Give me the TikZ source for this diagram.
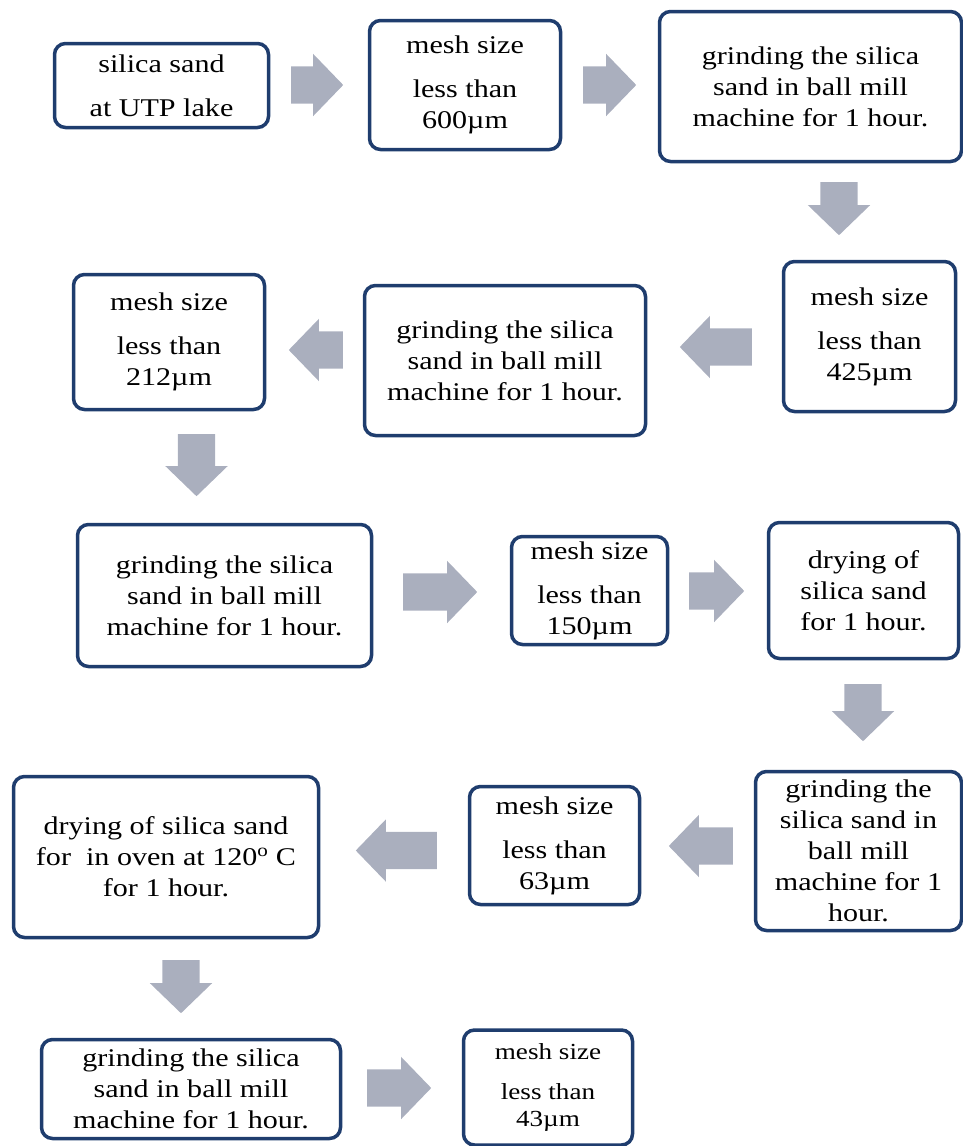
\documentclass[tikz,border=0pt]{standalone}
\usepackage{fontspec}
\setmainfont[FakeStretch=1.18]{Liberation Serif}
\usetikzlibrary{shapes.arrows}
\definecolor{boxblue}{RGB}{31,61,110}
\definecolor{arrowgray}{RGB}{170,175,190}

\begin{document}
\begin{tikzpicture}[
    x=1pt, y=-1pt,
    stepbox/.style={draw=boxblue, line width=3.5pt, rounded corners=11pt,
       fill=white, align=center, inner sep=0pt,
       font=\fontsize{25.5}{31}\selectfont},
    meshbox/.style={stepbox},
    flowarrow/.style={single arrow, fill=arrowgray, draw=none,
       inner xsep=0pt, inner ysep=18.5pt, single arrow head extend=12.5pt,
       single arrow tip angle=92, anchor=tail, minimum height=#1}
  ]
    \useasboundingbox (0,0) rectangle (963,1146);

    % First row
    \node[stepbox, minimum width=214pt, minimum height=84pt] (sand) at (161.5,85.5)
      {silica sand\\[13pt]at UTP lake};
    \node[meshbox, minimum width=191pt, minimum height=129pt] (mesh600) at (465,85)
      {mesh size\\[13pt]less than\\600µm};
    \node[stepbox, minimum width=302pt, minimum height=150pt] (grind1) at (810.5,86.5)
      {grinding the silica\\sand in ball mill\\machine for 1 hour.};

    % Second row
    \node[meshbox, minimum width=172pt, minimum height=150pt] (mesh425) at (869.5,336.5)
      {mesh size\\[13pt]less than\\425µm};
    \node[stepbox, minimum width=281pt, minimum height=150pt] (grind2) at (505,360.5)
      {grinding the silica\\sand in ball mill\\machine for 1 hour.};
    \node[meshbox, minimum width=191pt, minimum height=135pt] (mesh212) at (169,342)
      {mesh size\\[13pt]less than\\212µm};

    % Third row
    \node[stepbox, minimum width=294pt, minimum height=142pt] (grind3) at (224.5,595.5)
      {grinding the silica\\sand in ball mill\\machine for 1 hour.};
    \node[meshbox, minimum width=156pt, minimum height=108pt] (mesh150) at (589.5,590.5)
      {mesh size\\[13pt]less than\\150µm};
    \node[stepbox, minimum width=190pt, minimum height=136pt] (dry1) at (863.5,590.5)
      {drying of\\silica sand\\for 1 hour.};

    % Fourth row
    \node[stepbox, minimum width=206pt, minimum height=159pt] (grind4) at (858.5,851)
      {grinding the\\silica sand in\\ball mill\\machine for 1\\hour.};
    \node[meshbox, minimum width=170pt, minimum height=118pt] (mesh63) at (554.5,845.5)
      {mesh size\\[13pt]less than\\63µm};
    \node[stepbox, minimum width=305pt, minimum height=161pt] (dry2) at (166,857)
      {drying of silica sand\\for~ in oven at 120\textsuperscript{o} C\\for 1 hour.};

    % Last row
    \node[stepbox, minimum width=299pt, minimum height=99pt] (grind5) at (191,1089)
      {grinding the silica\\sand in ball mill\\machine for 1 hour.};
    \node[meshbox, minimum width=169pt, minimum height=115pt,
          font=\fontsize{23}{27}\selectfont] (mesh43) at (548,1087.5)
      {mesh size\\[13pt]less than\\43µm};

    % Block arrows between the steps
    \node[flowarrow=52pt] (arr1) at (291,85) {};
    \node[flowarrow=53pt] (arr2) at (583,85) {};
    \node[flowarrow=53pt, rotate=-90] (arr3) at (839,182) {};
    \node[flowarrow=72pt, rotate=180] (arr4) at (752,347) {};
    \node[flowarrow=54pt, rotate=180] (arr5) at (343,350) {};
    \node[flowarrow=62pt, rotate=-90] (arr6) at (196.5,434) {};
    \node[flowarrow=74pt] (arr7) at (403,592) {};
    \node[flowarrow=55pt] (arr8) at (689,591) {};
    \node[flowarrow=57pt, rotate=-90] (arr9) at (863,684) {};
    \node[flowarrow=64pt, rotate=180] (arr10) at (733,846) {};
    \node[flowarrow=81pt, rotate=180] (arr11) at (437,850.5) {};
    \node[flowarrow=53pt, rotate=-90] (arr12) at (181,960) {};
    \node[flowarrow=64pt] (arr13) at (367,1088) {};
  \end{tikzpicture}
\end{document}
